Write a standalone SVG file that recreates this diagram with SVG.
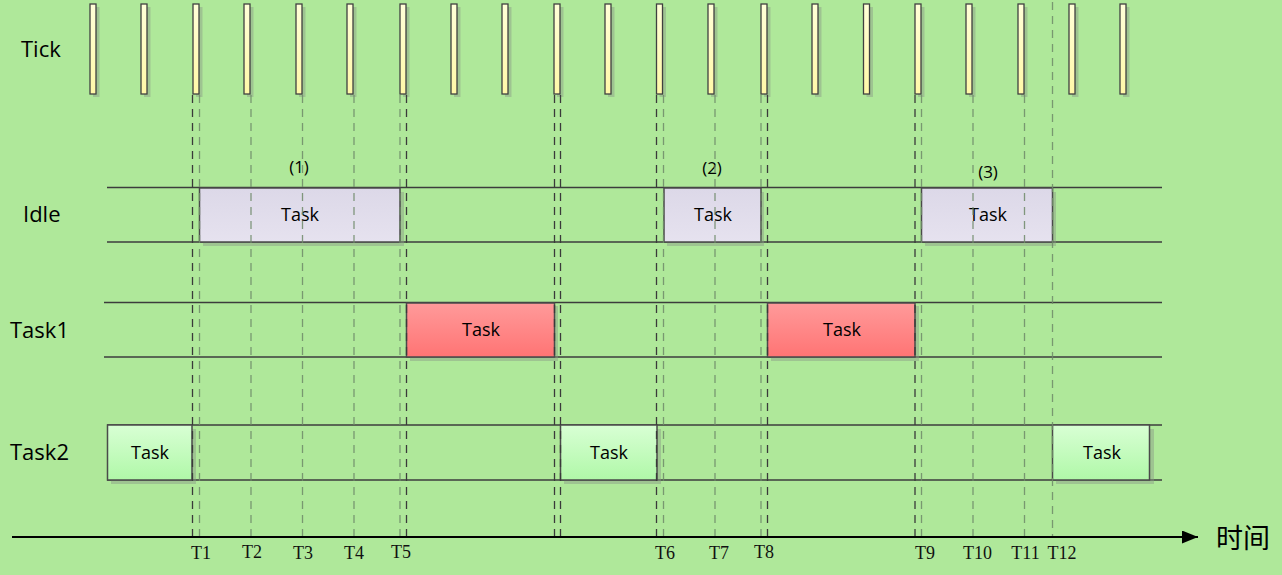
<svg xmlns="http://www.w3.org/2000/svg" width="1282" height="575" viewBox="0 0 1282 575">
<defs>
<linearGradient id="gTick" x1="0" y1="0" x2="0" y2="1"><stop offset="0" stop-color="#ffffd8"/><stop offset="1" stop-color="#fff8a8"/></linearGradient>
<linearGradient id="gIdle" x1="0" y1="0" x2="0" y2="1"><stop offset="0" stop-color="#dcd8e8"/><stop offset="1" stop-color="#e6e2ef"/></linearGradient>
<linearGradient id="gT1" x1="0" y1="0" x2="0" y2="1"><stop offset="0" stop-color="#ff9a9a"/><stop offset="1" stop-color="#ff7474"/></linearGradient>
<linearGradient id="gT2" x1="0" y1="0" x2="0" y2="1"><stop offset="0" stop-color="#d8ffd4"/><stop offset="1" stop-color="#b0f8a8"/></linearGradient>
<marker id="arr" viewBox="0 0 16 13" refX="16" refY="6.5" markerWidth="16" markerHeight="13" markerUnits="userSpaceOnUse" orient="auto"><path d="M0,0 L16,6.5 L0,13 Z" fill="#000"/></marker>
</defs>
<style>
.tick{fill:url(#gTick);stroke:#404040;stroke-width:1.3}
.sh{fill:#8a9a88;opacity:0.45}
.row{stroke:#3c3c3c;stroke-width:1.3;fill:none}
.box{stroke:#4a4a4a;stroke-width:1.5}
.idle{fill:url(#gIdle)}
.t1{fill:url(#gT1)}
.t2{fill:url(#gT2)}
.dd{stroke:#3a3a3a;stroke-width:1.3;stroke-dasharray:8 6;fill:none}
.dl{stroke:#6f8a68;stroke-width:1.3;stroke-dasharray:8 6;fill:none;opacity:0.85}
.lbl{font-family:"Open Sans","Noto Sans",sans-serif;font-size:22px;fill:#000}
.tk{font-family:"Open Sans","Noto Sans",sans-serif;font-size:18px;fill:#000;text-anchor:middle}
.num{font-family:"Open Sans","Noto Sans",sans-serif;font-size:17px;fill:#000;text-anchor:middle}
.tl{font-family:"Liberation Serif",serif;font-size:18px;fill:#111;text-anchor:middle}
.axis{stroke:#000;stroke-width:2;fill:none}
.cn{font-family:"Noto Sans CJK SC",sans-serif;font-size:27px;fill:#000}
</style>
<rect x="0" y="0" width="1282" height="575" fill="#afe89a"/>

<g id="labels">
<text class="lbl" x="21" y="57">Tick</text>
<text class="lbl" x="23" y="222">Idle</text>
<text class="lbl" x="10" y="338">Task1</text>
<text class="lbl" x="10" y="460">Task2</text>
</g>

<g id="ticks">
<rect class="sh" x="93" y="7" width="6.5" height="90"/><rect class="tick" x="90" y="4" width="6" height="90"/>
<rect class="sh" x="144" y="7" width="6.5" height="90"/><rect class="tick" x="141" y="4" width="6" height="90"/>
<rect class="sh" x="196" y="7" width="6.5" height="90"/><rect class="tick" x="193" y="4" width="6" height="90"/>
<rect class="sh" x="247" y="7" width="6.5" height="90"/><rect class="tick" x="244" y="4" width="6" height="90"/>
<rect class="sh" x="299" y="7" width="6.5" height="90"/><rect class="tick" x="296" y="4" width="6" height="90"/>
<rect class="sh" x="350" y="7" width="6.5" height="90"/><rect class="tick" x="347" y="4" width="6" height="90"/>
<rect class="sh" x="403" y="7" width="6.5" height="90"/><rect class="tick" x="400" y="4" width="6" height="90"/>
<rect class="sh" x="454" y="7" width="6.5" height="90"/><rect class="tick" x="451" y="4" width="6" height="90"/>
<rect class="sh" x="505" y="7" width="6.5" height="90"/><rect class="tick" x="502" y="4" width="6" height="90"/>
<rect class="sh" x="557" y="7" width="6.5" height="90"/><rect class="tick" x="554" y="4" width="6" height="90"/>
<rect class="sh" x="608" y="7" width="6.5" height="90"/><rect class="tick" x="605" y="4" width="6" height="90"/>
<rect class="sh" x="659.5" y="7" width="6.5" height="90"/><rect class="tick" x="656.5" y="4" width="6" height="90"/>
<rect class="sh" x="711" y="7" width="6.5" height="90"/><rect class="tick" x="708" y="4" width="6" height="90"/>
<rect class="sh" x="764" y="7" width="6.5" height="90"/><rect class="tick" x="761" y="4" width="6" height="90"/>
<rect class="sh" x="815" y="7" width="6.5" height="90"/><rect class="tick" x="812" y="4" width="6" height="90"/>
<rect class="sh" x="866.5" y="7" width="6.5" height="90"/><rect class="tick" x="863.5" y="4" width="6" height="90"/>
<rect class="sh" x="918" y="7" width="6.5" height="90"/><rect class="tick" x="915" y="4" width="6" height="90"/>
<rect class="sh" x="969" y="7" width="6.5" height="90"/><rect class="tick" x="966" y="4" width="6" height="90"/>
<rect class="sh" x="1021" y="7" width="6.5" height="90"/><rect class="tick" x="1018" y="4" width="6" height="90"/>
<rect class="sh" x="1072" y="7" width="6.5" height="90"/><rect class="tick" x="1069" y="4" width="6" height="90"/>
<rect class="sh" x="1123" y="7" width="6.5" height="90"/><rect class="tick" x="1120" y="4" width="6" height="90"/>
</g>

<g id="rows">
<line class="row" x1="107" y1="187.5" x2="1162" y2="187.5"/>
<line class="row" x1="107" y1="242" x2="1162" y2="242"/>
<line class="row" x1="104" y1="302.5" x2="1162" y2="302.5"/>
<line class="row" x1="104" y1="357" x2="1162" y2="357"/>
<line class="row" x1="107" y1="425" x2="1162" y2="425"/>
<line class="row" x1="107" y1="480" x2="1162" y2="480"/>
</g>

<g id="idle-task-1">
<rect class="sh" x="203" y="192" width="201" height="54"/>
<rect class="box idle" x="199.5" y="188" width="200.5" height="54"/>
<text class="tk" x="300" y="221">Task</text>
<text class="num" x="299" y="173">(1)</text>
</g>
<g id="idle-task-2">
<rect class="sh" x="667" y="192" width="97" height="54"/>
<rect class="box idle" x="664" y="188" width="97" height="54"/>
<text class="tk" x="713" y="221">Task</text>
<text class="num" x="712" y="174">(2)</text>
</g>
<g id="idle-task-3">
<rect class="sh" x="925" y="192" width="131" height="54"/>
<rect class="box idle" x="921.5" y="188" width="131" height="54"/>
<text class="tk" x="988" y="221">Task</text>
<text class="num" x="988" y="178">(3)</text>
</g>

<g id="task1-a">
<rect class="sh" x="410" y="306" width="148" height="55"/>
<rect class="box t1" x="406.5" y="303" width="148" height="54"/>
<text class="tk" x="481" y="336">Task</text>
</g>
<g id="task1-b">
<rect class="sh" x="771" y="306" width="148" height="55"/>
<rect class="box t1" x="767.5" y="303" width="147.5" height="54"/>
<text class="tk" x="842" y="336">Task</text>
</g>

<g id="task2-a">
<rect class="sh" x="111" y="429" width="85" height="55"/>
<rect class="box t2" x="107.5" y="425" width="84.5" height="55"/>
<text class="tk" x="150" y="459">Task</text>
</g>
<g id="task2-b">
<rect class="sh" x="564" y="429" width="97" height="55"/>
<rect class="box t2" x="560.5" y="425" width="96.5" height="55"/>
<text class="tk" x="609" y="459">Task</text>
</g>
<g id="task2-c">
<rect class="sh" x="1056" y="429" width="98" height="55"/>
<rect class="box t2" x="1052.5" y="425" width="97" height="55"/>
<text class="tk" x="1102" y="459">Task</text>
</g>

<g id="connectors">
<line class="dd" x1="192.5" y1="95" x2="192.5" y2="537"/>
<line class="dd" x1="406.5" y1="95" x2="406.5" y2="537"/>
<line class="dd" x1="554.5" y1="95" x2="554.5" y2="537"/>
<line class="dd" x1="560.5" y1="95" x2="560.5" y2="537"/>
<line class="dd" x1="656.5" y1="95" x2="656.5" y2="537"/>
<line class="dd" x1="767.5" y1="95" x2="767.5" y2="537"/>
<line class="dd" x1="915" y1="95" x2="915" y2="537"/>
<line class="dl" x1="199.5" y1="95" x2="199.5" y2="537"/>
<line class="dl" x1="251" y1="95" x2="251" y2="537"/>
<line class="dl" x1="302.5" y1="95" x2="302.5" y2="537"/>
<line class="dl" x1="354" y1="95" x2="354" y2="537"/>
<line class="dl" x1="400" y1="95" x2="400" y2="537"/>
<line class="dl" x1="663.5" y1="95" x2="663.5" y2="537"/>
<line class="dl" x1="715" y1="95" x2="715" y2="537"/>
<line class="dl" x1="761" y1="95" x2="761" y2="537"/>
<line class="dl" x1="921.5" y1="95" x2="921.5" y2="537"/>
<line class="dl" x1="973" y1="95" x2="973" y2="537"/>
<line class="dl" x1="1024.5" y1="95" x2="1024.5" y2="537"/>
<line class="dl" x1="1052.5" y1="2" x2="1052.5" y2="537"/>
<line class="axis" x1="12" y1="537" x2="1198" y2="537" marker-end="url(#arr)"/>
</g>

<g id="axis-labels">
<text class="tl" x="201" y="559">T1</text>
<text class="tl" x="252" y="558">T2</text>
<text class="tl" x="303" y="559">T3</text>
<text class="tl" x="354" y="559">T4</text>
<text class="tl" x="401" y="558">T5</text>
<text class="tl" x="665" y="559">T6</text>
<text class="tl" x="719" y="559">T7</text>
<text class="tl" x="764" y="558">T8</text>
<text class="tl" x="925" y="559">T9</text>
<text class="tl" x="977.5" y="559">T10</text>
<text class="tl" x="1025.5" y="559">T11</text>
<text class="tl" x="1062" y="559">T12</text>
<text class="cn" x="1216" y="548">时间</text>
</g>
</svg>
